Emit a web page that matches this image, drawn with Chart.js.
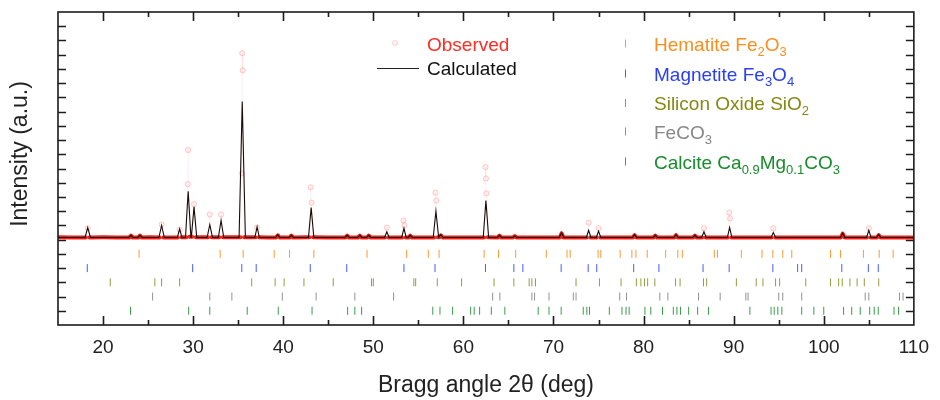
<!DOCTYPE html>
<html>
<head>
<meta charset="utf-8">
<script src="https://cdn.jsdelivr.net/npm/chart.js@4.4.1/dist/chart.umd.min.js"></script>
<style>
  html, body { margin: 0; padding: 0; background: #fff; }
  #wrap { width: 940px; height: 400px; position: relative; }
</style>
</head>
<body>
<div id="wrap"><canvas id="xrd" width="940" height="400"></canvas></div>
<script>
// ---- Calculated (Rietveld) profile: 2θ (deg) and intensity (a.u.) ----
const calcTheta = [
  15.0,
  18.0, 18.3, 18.6,
  22.85, 23.1, 23.35,
  23.85, 24.1, 24.35,
  26.2, 26.5, 26.8,
  28.25, 28.5, 28.75,
  29.15, 29.45, 29.75,
  29.8, 30.1, 30.4,
  31.55, 31.85, 32.15,
  32.8, 33.1, 33.4,
  35.1, 35.45, 35.8,
  36.85, 37.1, 37.35,
  39.15, 39.4, 39.65,
  40.65, 40.9, 41.15,
  42.8, 43.1, 43.4,
  46.85, 47.1, 47.35,
  48.25, 48.5, 48.75,
  49.25, 49.5, 49.75,
  51.25, 51.5, 51.75,
  53.15, 53.4, 53.65,
  53.85, 54.1, 54.35,
  56.65, 56.95, 57.25,
  57.5, 57.75,
  62.2, 62.5, 62.8,
  63.75, 64.0, 64.25,
  65.45, 65.7, 65.95,
  70.65, 70.9, 71.15,
  73.65, 73.9, 74.15,
  74.75, 75.0, 75.25,
  78.75, 79.0, 79.25,
  81.05, 81.3, 81.55,
  83.35, 83.6, 83.85,
  85.45, 85.7, 85.95,
  86.45, 86.7, 86.95,
  89.3, 89.55, 89.8,
  94.15, 94.4, 94.65,
  101.85, 102.1, 102.35,
  104.75, 105.0, 105.25,
  105.85, 106.1, 106.35,
  110.0
];
const calcIntensity = [
  0.15,
  0.15, 0.85, 0.15,
  0.15, 0.30, 0.15,
  0.15, 0.30, 0.15,
  0.15, 1.00, 0.15,
  0.15, 0.75, 0.15,
  0.15, 3.40, 0.18,
  0.18, 2.30, 0.15,
  0.15, 1.05, 0.15,
  0.15, 1.35, 0.15,
  0.15, 9.70, 0.15,
  0.15, 0.90, 0.15,
  0.15, 0.35, 0.15,
  0.15, 0.30, 0.15,
  0.15, 2.25, 0.15,
  0.15, 0.30, 0.15,
  0.15, 0.30, 0.15,
  0.15, 0.30, 0.15,
  0.15, 0.55, 0.15,
  0.15, 0.80, 0.15,
  0.15, 0.30, 0.15,
  0.15, 2.00, 0.17,
  0.35, 0.15,
  0.15, 2.75, 0.15,
  0.15, 0.30, 0.15,
  0.15, 0.25, 0.15,
  0.15, 0.50, 0.15,
  0.15, 0.65, 0.15,
  0.15, 0.60, 0.15,
  0.15, 0.35, 0.15,
  0.15, 0.30, 0.15,
  0.15, 0.35, 0.15,
  0.15, 0.30, 0.15,
  0.15, 0.55, 0.15,
  0.15, 0.85, 0.15,
  0.15, 0.50, 0.15,
  0.15, 0.45, 0.15,
  0.15, 0.65, 0.15,
  0.15, 0.35, 0.15,
  0.15
];

// ---- Observed counts: 2θ (deg) and intensity (a.u.) ----
const obsTheta = [
  15.0, 16.5,
  18.1, 18.3, 18.5,
  20.0, 21.5,
  22.9, 23.1, 23.3,
  23.9, 24.1, 24.3,
  25.2,
  26.3, 26.5, 26.7,
  28.3, 28.5, 28.7,
  29.25, 29.4, 29.45, 29.6,
  29.9, 30.1, 30.3,
  31.65, 31.85, 32.05,
  32.9, 33.1, 33.3,
  34.4,
  35.25, 35.4, 35.45, 35.5, 35.65,
  36.9, 37.1, 37.3,
  38.3,
  39.2, 39.4, 39.6,
  40.7, 40.9, 41.1,
  42.9, 43.05, 43.15, 43.3,
  45.0,
  46.9, 47.1, 47.3,
  48.3, 48.5, 48.7,
  49.3, 49.5, 49.7,
  51.3, 51.5, 51.7,
  53.2, 53.35, 53.45, 53.6,
  53.9, 54.1, 54.3,
  55.5,
  56.75, 56.9, 57.0, 57.15,
  57.3, 57.5, 57.7,
  59.5,
  62.3, 62.45, 62.5, 62.55, 62.7,
  63.8, 64.0, 64.2,
  65.5, 65.7, 65.9,
  68.0,
  70.7, 70.9, 71.1,
  73.7, 73.9, 74.1,
  74.8, 75.0, 75.2,
  77.0,
  78.8, 79.0, 79.2,
  81.1, 81.3, 81.5,
  83.4, 83.6, 83.8,
  85.5, 85.7, 85.9,
  86.5, 86.7, 86.9,
  89.35, 89.5, 89.6, 89.75,
  92.0,
  94.2, 94.4, 94.6,
  98.0,
  101.9, 102.1, 102.3,
  104.8, 105.0, 105.2,
  105.9, 106.1, 106.3,
  108.0, 110.0
];
const obsIntensity = [
  0.16, 0.15,
  0.15, 0.80, 0.15,
  0.16, 0.15,
  0.15, 0.28, 0.15,
  0.15, 0.28, 0.15,
  0.16,
  0.15, 1.07, 0.15,
  0.15, 0.70, 0.16,
  0.16, 3.90, 6.30, 0.20,
  0.20, 2.50, 0.17,
  0.16, 1.77, 0.16,
  0.16, 1.77, 0.16,
  0.16,
  0.16, 4.66, 13.10, 11.90, 0.17,
  0.16, 0.85, 0.16,
  0.15,
  0.15, 0.30, 0.15,
  0.15, 0.28, 0.15,
  0.16, 3.68, 2.60, 0.16,
  0.15,
  0.15, 0.28, 0.15,
  0.15, 0.28, 0.15,
  0.15, 0.28, 0.15,
  0.15, 0.85, 0.15,
  0.15, 1.35, 1.00, 0.15,
  0.15, 0.28, 0.15,
  0.15,
  0.15, 3.30, 2.75, 0.16,
  0.16, 0.30, 0.15,
  0.15,
  0.15, 5.10, 4.30, 3.25, 0.16,
  0.15, 0.28, 0.15,
  0.15, 0.25, 0.15,
  0.15,
  0.15, 0.45, 0.15,
  0.15, 1.20, 0.15,
  0.15, 0.80, 0.15,
  0.15,
  0.15, 0.32, 0.15,
  0.15, 0.28, 0.15,
  0.15, 0.32, 0.15,
  0.15, 0.28, 0.15,
  0.15, 0.80, 0.15,
  0.15, 1.90, 1.50, 0.15,
  0.15,
  0.15, 0.80, 0.15,
  0.15,
  0.15, 0.42, 0.15,
  0.15, 0.80, 0.15,
  0.15, 0.32, 0.15,
  0.15, 0.15
];

// ---- Bragg reflection positions (2θ, deg) of each phase ----
const hematiteRefl = [24.0, 33.0, 35.55, 39.0, 40.7, 43.4, 49.3, 53.7, 56.1, 57.3, 62.3, 63.9, 65.8, 69.2,
  71.5, 71.85, 74.95, 75.25, 77.4, 78.7, 79.15, 80.4, 82.45, 83.8, 84.3, 87.85, 88.2, 90.85, 93.15,
  94.35, 95.45, 96.45, 100.75, 101.85, 104.4, 106.15, 107.7];
const magnetiteRefl = [18.25, 29.95, 35.4, 37.0, 43.0, 47.05, 53.4, 56.85, 62.45, 65.6, 66.6, 70.85, 73.85,
  74.8, 78.9, 81.7, 86.6, 89.5, 94.35, 97.1, 97.55, 102.0, 104.95, 106.05];
const silicaRefl = [20.8, 25.75, 26.5, 28.5, 36.5, 39.1, 40.1, 42.3, 45.55, 49.8, 50.0, 54.5, 54.7, 57.1,
  59.8, 63.4, 65.6, 67.3, 67.6, 68.0, 72.5, 75.1, 77.5, 79.2, 79.7, 80.1, 80.45, 81.25, 83.55, 84.05,
  86.65, 87.0, 90.3, 92.5, 93.25, 94.65, 95.1, 98.0, 100.75, 101.65, 102.05, 102.9, 103.7, 104.5, 106.1];
const sideriteRefl = [25.5, 31.85, 34.3, 39.9, 43.65, 47.95, 52.25, 63.25, 64.05, 67.6, 67.9, 69.5, 72.2,
  72.5, 77.35, 78.1, 81.8, 82.7, 86.1, 88.5, 91.35, 91.6, 95.0, 95.45, 97.55, 104.6, 105.0, 108.4, 108.8];
const calciteRefl = [23.05, 29.5, 31.85, 36.0, 39.45, 43.2, 47.15, 47.95, 48.7, 56.6, 57.4, 58.8, 60.8, 61.2,
  61.8, 63.1, 64.6, 68.3, 69.5, 70.85, 73.3, 73.7, 74.0, 76.2, 77.6, 78.05, 78.4, 80.15, 80.8, 82.1,
  83.3, 83.7, 84.1, 85.0, 86.0, 87.2, 91.8, 94.15, 94.5, 94.9, 95.35, 97.55, 98.9, 100.0, 102.2, 103.1,
  104.05, 105.1, 105.6, 106.05, 107.8, 108.3];

// ---- Axis ticks ----
const xTickValues = [20, 30, 40, 50, 60, 70, 80, 90, 100, 110];
const xMinorTicks = [25, 35, 45, 55, 65, 75, 85, 95, 105];

// ---- Phase names (subscripts marked with _) ----
const phaseNames = ['Hematite Fe_2O_3', 'Magnetite Fe_3O_4', 'Silicon Oxide SiO_2', 'FeCO_3', 'Calcite Ca_{0.9}Mg_{0.1}CO_3'];
const phaseRows = [-1, -2, -3, -4, -5];

const FONT = '"Liberation Sans", Arial, Helvetica, sans-serif';
const phaseColors = ['rgb(250,142,30)', 'rgb(40,62,250)', 'rgb(135,135,20)', 'rgb(135,135,135)', 'rgb(25,140,45)'];
const phaseTickColors = ['rgba(250,142,30,0.9)', 'rgba(40,62,250,0.85)', 'rgba(130,140,30,0.85)', 'rgba(120,120,120,0.8)', 'rgba(25,140,45,0.85)'];

const pairs = (xs, ys) => xs.map((v, i) => ({ x: v, y: ys[i] }));
const rows = (xs, r) => xs.map(v => ({ x: v, y: r }));

const reflLists = [hematiteRefl, magnetiteRefl, silicaRefl, sideriteRefl, calciteRefl];
const phaseDatasets = reflLists.map((list, k) => ({
  type: 'scatter',
  label: phaseNames[k],
  data: rows(list, phaseRows[k]),
  pointStyle: 'line',
  rotation: 90,
  radius: 4,
  borderWidth: 1,
  borderColor: phaseTickColors[k],
  backgroundColor: phaseTickColors[k],
  order: 3
}));

// draws a string where "_x" or "_{...}" is set as a subscript
function drawRich(ctx, str, x, y, color, size, subSize) {
  const parts = [];
  let buf = '', i = 0;
  while (i < str.length) {
    if (str[i] === '_') {
      if (buf) { parts.push([buf, false]); buf = ''; }
      if (str[i + 1] === '{') {
        const j = str.indexOf('}', i);
        parts.push([str.slice(i + 2, j), true]);
        i = j + 1;
      } else {
        parts.push([str[i + 1], true]);
        i += 2;
      }
    } else { buf += str[i]; i++; }
  }
  if (buf) parts.push([buf, false]);
  ctx.fillStyle = color;
  ctx.textBaseline = 'alphabetic';
  ctx.textAlign = 'left';
  let cx = x;
  for (const [t, sub] of parts) {
    ctx.font = (sub ? subSize : size) + 'px ' + FONT;
    ctx.fillText(t, cx, y + (sub ? 5 : 0));
    cx += ctx.measureText(t).width;
  }
}

const frameAndLegend = {
  id: 'frameAndLegend',
  afterDatasetsDraw(chart) {
    const { ctx, chartArea: a, scales: { x, y } } = chart;
    ctx.save();
    ctx.strokeStyle = '#1c1c1c';
    ctx.lineWidth = 1.6;
    ctx.beginPath();
    // inward tick marks on all four sides
    xTickValues.forEach(v => {
      const px = Math.round(x.getPixelForValue(v)) + 0.5;
      if (px > a.right - 1) return;
      ctx.moveTo(px, a.bottom); ctx.lineTo(px, a.bottom - 9);
      ctx.moveTo(px, a.top); ctx.lineTo(px, a.top + 9);
    });
    xMinorTicks.forEach(v => {
      const px = Math.round(x.getPixelForValue(v)) + 0.5;
      ctx.moveTo(px, a.bottom); ctx.lineTo(px, a.bottom - 5);
      ctx.moveTo(px, a.top); ctx.lineTo(px, a.top + 5);
    });
    for (let v = y.min + 1; v < y.max; v += 1) {
      const py = Math.round(y.getPixelForValue(v)) + 0.5;
      ctx.moveTo(a.left, py); ctx.lineTo(a.left + 8, py);
      ctx.moveTo(a.right, py); ctx.lineTo(a.right - 8, py);
    }
    ctx.stroke();
    ctx.strokeRect(a.left, a.top, a.right - a.left, a.bottom - a.top);
    ctx.restore();
  },
  afterDraw(chart) {
    const { ctx } = chart;
    ctx.save();
    // y-axis title
    ctx.translate(21, 154);
    ctx.rotate(-Math.PI / 2);
    ctx.font = '23px ' + FONT;
    ctx.fillStyle = '#222';
    ctx.textAlign = 'center';
    ctx.textBaseline = 'middle';
    ctx.fillText('Intensity (a.u.)', 0, 0);
    ctx.setTransform(1, 0, 0, 1, 0, 0);

    // Observed / Calculated key
    ctx.beginPath();
    ctx.arc(395, 43, 2.6, 0, Math.PI * 2);
    ctx.fillStyle = 'rgba(255,200,200,0.25)';
    ctx.fill();
    ctx.strokeStyle = 'rgba(250,130,130,0.3)';
    ctx.lineWidth = 1;
    ctx.stroke();
    drawRich(ctx, 'Observed', 427, 51, 'rgb(255,45,35)', 19, 13);
    ctx.beginPath();
    ctx.moveTo(377, 68.5); ctx.lineTo(419, 68.5);
    ctx.strokeStyle = '#222';
    ctx.lineWidth = 1;
    ctx.stroke();
    drawRich(ctx, 'Calculated', 427, 75, '#111', 19, 13);

    // phase key
    const rowsY = [43.5, 73.5, 103, 131.5, 161.5];
    phaseNames.forEach((name, k) => {
      ctx.beginPath();
      ctx.moveTo(625.5, rowsY[k] - 4); ctx.lineTo(625.5, rowsY[k] + 4);
      ctx.strokeStyle = phaseTickColors[k];
      ctx.lineWidth = 1;
      ctx.stroke();
      drawRich(ctx, name, 654, rowsY[k] + 7, phaseColors[k], 19, 13);
    });
    ctx.restore();
  }
};

const isPeak = v => v > 0.5;

new Chart(document.getElementById('xrd'), {
  type: 'line',
  data: {
    datasets: [
      {
        label: 'Calculated',
        data: pairs(calcTheta, calcIntensity),
        borderColor: '#1a0a0a',
        borderWidth: 1.1,
        pointRadius: 0,
        tension: 0,
        order: 1
      },
      {
        label: 'Observed',
        data: pairs(obsTheta, obsIntensity),
        borderColor: 'rgb(238,32,22)',
        borderWidth: 4,
        borderJoinStyle: 'round',
        borderCapStyle: 'round',
        tension: 0,
        segment: {
          borderColor: c => (isPeak(c.p0.parsed.y) || isPeak(c.p1.parsed.y)) ? 'rgba(250,130,130,0.08)' : 'rgb(238,32,22)',
          borderWidth: c => (isPeak(c.p0.parsed.y) || isPeak(c.p1.parsed.y)) ? 1 : 4
        },
        pointRadius: c => (c.raw && isPeak(c.raw.y)) ? 2.6 : 0,
        pointBackgroundColor: 'rgba(255,200,200,0.25)',
        pointBorderColor: 'rgba(250,125,125,0.38)',
        pointBorderWidth: 1,
        order: 2
      },
      ...phaseDatasets
    ]
  },
  options: {
    responsive: false,
    animation: false,
    devicePixelRatio: 1,
    layout: { padding: { left: 58, right: 18, top: 12, bottom: 0 } },
    plugins: { legend: { display: false }, tooltip: { enabled: false } },
    scales: {
      x: {
        type: 'linear',
        min: 15,
        max: 110,
        afterBuildTicks: s => { s.ticks = xTickValues.map(v => ({ value: v })); },
        afterFit: s => { s.height = 75; },
        grid: { display: false, drawTicks: false },
        border: { display: false },
        ticks: { color: '#222', padding: 11, font: { family: FONT, size: 19 }, maxRotation: 0, autoSkip: false },
        title: { display: true, text: 'Bragg angle 2θ (deg)', color: '#222', font: { family: FONT, size: 23 }, padding: { top: 0, bottom: 1 } }
      },
      y: {
        type: 'linear',
        min: -6,
        max: 16,
        display: false
      }
    }
  },
  plugins: [frameAndLegend]
});
</script>
</body>
</html>
